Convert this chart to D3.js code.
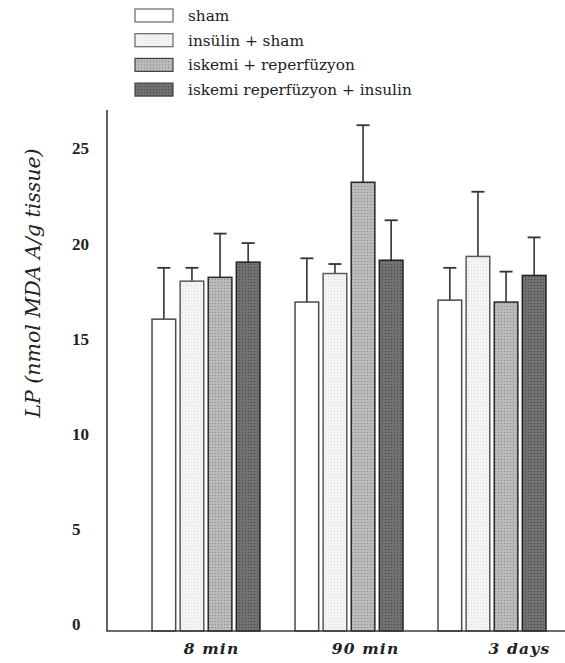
<!DOCTYPE html>
<html>
<head>
<meta charset="utf-8">
<script src="https://cdn.jsdelivr.net/npm/d3@7"></script>
<style>
  html, body { margin: 0; padding: 0; background: #fff; }
  svg { display: block; }
</style>
</head>
<body>
<svg id="chart" width="565" height="663"></svg>
<script>
// ---- data ----
const categories = ["8 min", "90 min", "3 days"];
const seriesNames = ["sham", "insülin + sham", "iskemi + reperfüzyon", "iskemi reperfüzyon + insulin"];
const shamValues      = [16.4, 17.3, 17.4];
const insulinShamVals = [18.4, 18.8, 19.7];
const iskemiValues    = [18.6, 23.6, 17.3];
const iskemiInsValues = [19.4, 19.5, 18.7];
const shamErr      = [2.7, 2.3, 1.7];
const insulinShamErr = [0.7, 0.5, 3.4];
const iskemiErr    = [2.3, 3.0, 1.6];
const iskemiInsErr = [1.0, 2.1, 2.0];
const yTicks = [0, 5, 10, 15, 20, 25];
const yTitle = "LP (nmol MDA A/g tissue)";

const valuesBySeries = [shamValues, insulinShamVals, iskemiValues, iskemiInsValues];
const errBySeries = [shamErr, insulinShamErr, iskemiErr, iskemiInsErr];

// ---- styles ----
const strokes = ["#4a4a4a", "#5a5a5a", "#2a2a2a", "#222222"];

const svg = d3.select("#chart");

// patterns for stipple texture
const defs = svg.append("defs");
function dotPattern(id, bg, dot) {
  const p = defs.append("pattern").attr("id", id).attr("patternUnits", "userSpaceOnUse")
    .attr("width", 3).attr("height", 3);
  p.append("rect").attr("width", 3).attr("height", 3).attr("fill", bg);
  p.append("rect").attr("x", 0).attr("y", 0).attr("width", 1).attr("height", 1).attr("fill", dot);
  return "url(#" + id + ")";
}
const patFills = [
  "#ffffff",
  dotPattern("p1", "#f4f4f4", "#dcdcdc"),
  dotPattern("p2", "#bababa", "#8a8a8a"),
  dotPattern("p3", "#717171", "#464646")
];

// ---- scales ----
const y = d3.scaleLinear().domain([0, 27.4]).range([631, 110]);
const x0 = d3.scaleBand().domain(categories).range([134.5, 563.5]).paddingInner(0.245).paddingOuter(0.1225);
const x1 = d3.scaleBand().domain(d3.range(seriesNames.length)).range([0, x0.bandwidth()]).paddingInner(0.158);
const xLabel = d3.scalePoint().domain(categories).range([211, 519]);

// ---- bars ----
const groups = svg.append("g").selectAll("g").data(categories).join("g")
  .attr("transform", d => `translate(${x0(d)},0)`);

groups.each(function(cat, ci) {
  const g = d3.select(this);
  seriesNames.forEach((s, si) => {
    const v = valuesBySeries[si][ci];
    const e = errBySeries[si][ci];
    const bx = x1(si);
    const bw = x1.bandwidth();
    g.append("line")
      .attr("x1", bx + bw / 2).attr("x2", bx + bw / 2)
      .attr("y1", y(v)).attr("y2", y(v + e))
      .attr("stroke", "#333").attr("stroke-width", 1.6);
    g.append("line")
      .attr("x1", bx + bw / 2 - 6.5).attr("x2", bx + bw / 2 + 6.5)
      .attr("y1", y(v + e)).attr("y2", y(v + e))
      .attr("stroke", "#333").attr("stroke-width", 1.8);
    g.append("rect")
      .attr("x", bx).attr("width", bw)
      .attr("y", y(v)).attr("height", y(0) - y(v))
      .attr("fill", patFills[si])
      .attr("stroke", strokes[si]).attr("stroke-width", 1.5);
  });
});

// ---- axes ----
const yAxis = d3.axisLeft(y).tickValues(yTicks).tickSize(0).tickPadding(0).tickFormat(d3.format("d"));
const gy = svg.append("g").attr("transform", "translate(107,0)").call(yAxis);
gy.select(".domain").remove();
gy.selectAll("text")
  .attr("x", -35).attr("text-anchor", "start").attr("dy", "-0.1em")
  .style("font-family", "'Liberation Serif', serif").style("font-weight", "bold")
  .style("font-size", "17px").attr("fill", "#222");

svg.append("line").attr("x1", 107).attr("x2", 107).attr("y1", y(27.4)).attr("y2", y(0))
  .attr("stroke", "#3a3a3a").attr("stroke-width", 1.6);
svg.append("line").attr("x1", 106.2).attr("x2", 565).attr("y1", y(0)).attr("y2", y(0))
  .attr("stroke", "#3a3a3a").attr("stroke-width", 1.6);

const xAxis = d3.axisBottom(xLabel).tickSize(0).tickPadding(0);
const gx = svg.append("g").attr("transform", `translate(0,${y(0)})`).call(xAxis);
gx.select(".domain").remove();
gx.selectAll("text")
  .attr("y", 23).attr("dy", 0)
  .style("font-family", "'DejaVu Serif', serif").style("font-weight", "bold").style("font-style", "italic")
  .style("font-size", "15.5px").style("letter-spacing", "1.2px").attr("fill", "#222");

// ---- y title ----
svg.append("text")
  .attr("transform", "translate(40,283) rotate(-90)")
  .attr("text-anchor", "middle")
  .style("font-family", "'DejaVu Serif', serif").style("font-style", "italic")
  .style("font-size", "20.5px").attr("fill", "#222")
  .text(yTitle);

// ---- legend ----
const legend = svg.append("g").attr("transform", "translate(135,9)");
const li = legend.selectAll("g").data(seriesNames).join("g")
  .attr("transform", (d, i) => `translate(0,${i * 24.7})`);
li.append("rect").attr("width", 38).attr("height", 13)
  .attr("fill", (d, i) => patFills[i])
  .attr("stroke", (d, i) => i < 2 ? "#666" : "#444").attr("stroke-width", 1.2);
li.append("text").attr("x", 53).attr("y", 12)
  .style("font-family", "'DejaVu Serif', serif").style("font-size", "15.3px").attr("fill", "#222")
  .text(d => d);
</script>
</body>
</html>
